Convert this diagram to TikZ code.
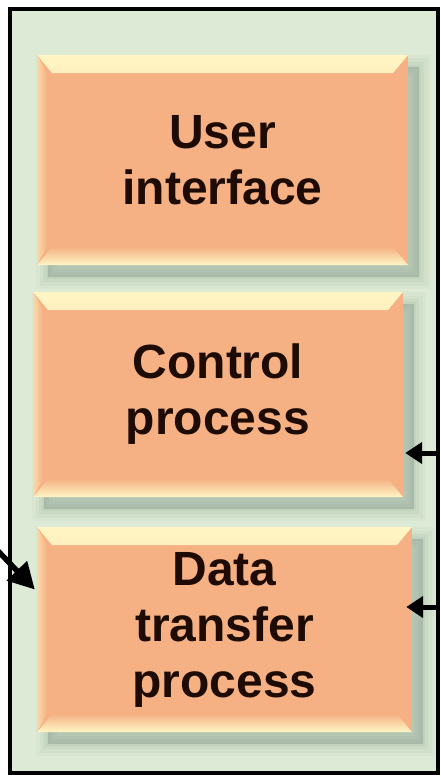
\documentclass[tikz,border=0pt]{standalone}
\usepackage{fontspec}
\setmainfont{Liberation Sans}
\usetikzlibrary{arrows.meta,calc}
\definecolor{bgcol}{HTML}{DDEBD6}
\definecolor{boxor}{HTML}{F5B184}
\definecolor{bevlight}{HTML}{FFF6C4}
\definecolor{shcol}{HTML}{7F9585}
\definecolor{txtcol}{HTML}{1E0C04}
\tikzset{
  bevelbox/.style={rectangle, inner sep=0pt, fill=boxor, align=center,
    text=txtcol, font=\bfseries\fontsize{48}{56}\selectfont,
    preaction={fill=shcol, draw=shcol, line width=24pt, opacity=0.05, transform canvas={shift={(11pt,-12pt)}}},
    preaction={fill=shcol, draw=shcol, line width=17pt, opacity=0.07, transform canvas={shift={(11pt,-12pt)}}},
    preaction={fill=shcol, draw=shcol, line width=10pt, opacity=0.09, transform canvas={shift={(11pt,-12pt)}}},
    preaction={fill=shcol, draw=shcol, line width=4pt, opacity=0.10, transform canvas={shift={(11pt,-12pt)}}},
    preaction={fill=shcol, opacity=0.12, transform canvas={shift={(11pt,-12pt)}}},
    path picture={
      \shade[top color=bevlight, bottom color=boxor]
        (path picture bounding box.north west) -- (path picture bounding box.north east)
        -- ([xshift=-15pt,yshift=-18pt]path picture bounding box.north east)
        -- ([xshift=15pt,yshift=-18pt]path picture bounding box.north west) -- cycle;
      \shade[top color=boxor, bottom color=bevlight]
        ([xshift=15pt,yshift=18pt]path picture bounding box.south west)
        -- ([xshift=-15pt,yshift=18pt]path picture bounding box.south east)
        -- (path picture bounding box.south east) -- (path picture bounding box.south west) -- cycle;
      \shade[left color=bevlight!60!boxor, right color=boxor]
        (path picture bounding box.north west) -- ([xshift=10pt,yshift=-18pt]path picture bounding box.north west)
        -- ([xshift=10pt,yshift=18pt]path picture bounding box.south west) -- (path picture bounding box.south west) -- cycle;
    }},
  arr/.style={line width=5pt, -{Triangle[length=17pt,width=21pt]}},
  bigarr/.style={line width=5.5pt, -{Triangle[length=26pt,width=27pt]}}
}
\begin{document}
\begin{tikzpicture}[x=1pt,y=-1pt]
\useasboundingbox (0,0) rectangle (441,776);
\fill[white] (0,0) rectangle (441,776);
\draw[line width=4pt, fill=bgcol] (10,9) rectangle (438,773);
\node[bevelbox, minimum width=371pt, minimum height=210pt] (ui) at (222.5,160) {User\\interface};
\node[bevelbox, minimum width=370pt, minimum height=205pt] (cp) at (218,394.5) {Control\\process};
\node[bevelbox, minimum width=375pt, minimum height=205pt] (dt) at (224.5,629.5) {Data\\transfer\\process};
\coordinate (r1) at (439,453);
\coordinate (r2) at (439,607);
\coordinate (l1) at (-2,551);
\draw[arr] (r1) -- ([xshift=2pt]r1 -| cp.east);
\draw[arr] (r2) -- ([xshift=-6pt]r2 -| dt.east);
\draw[bigarr] (l1) -- ([xshift=-2pt,yshift=40pt]dt.west);
\end{tikzpicture}
\end{document}
